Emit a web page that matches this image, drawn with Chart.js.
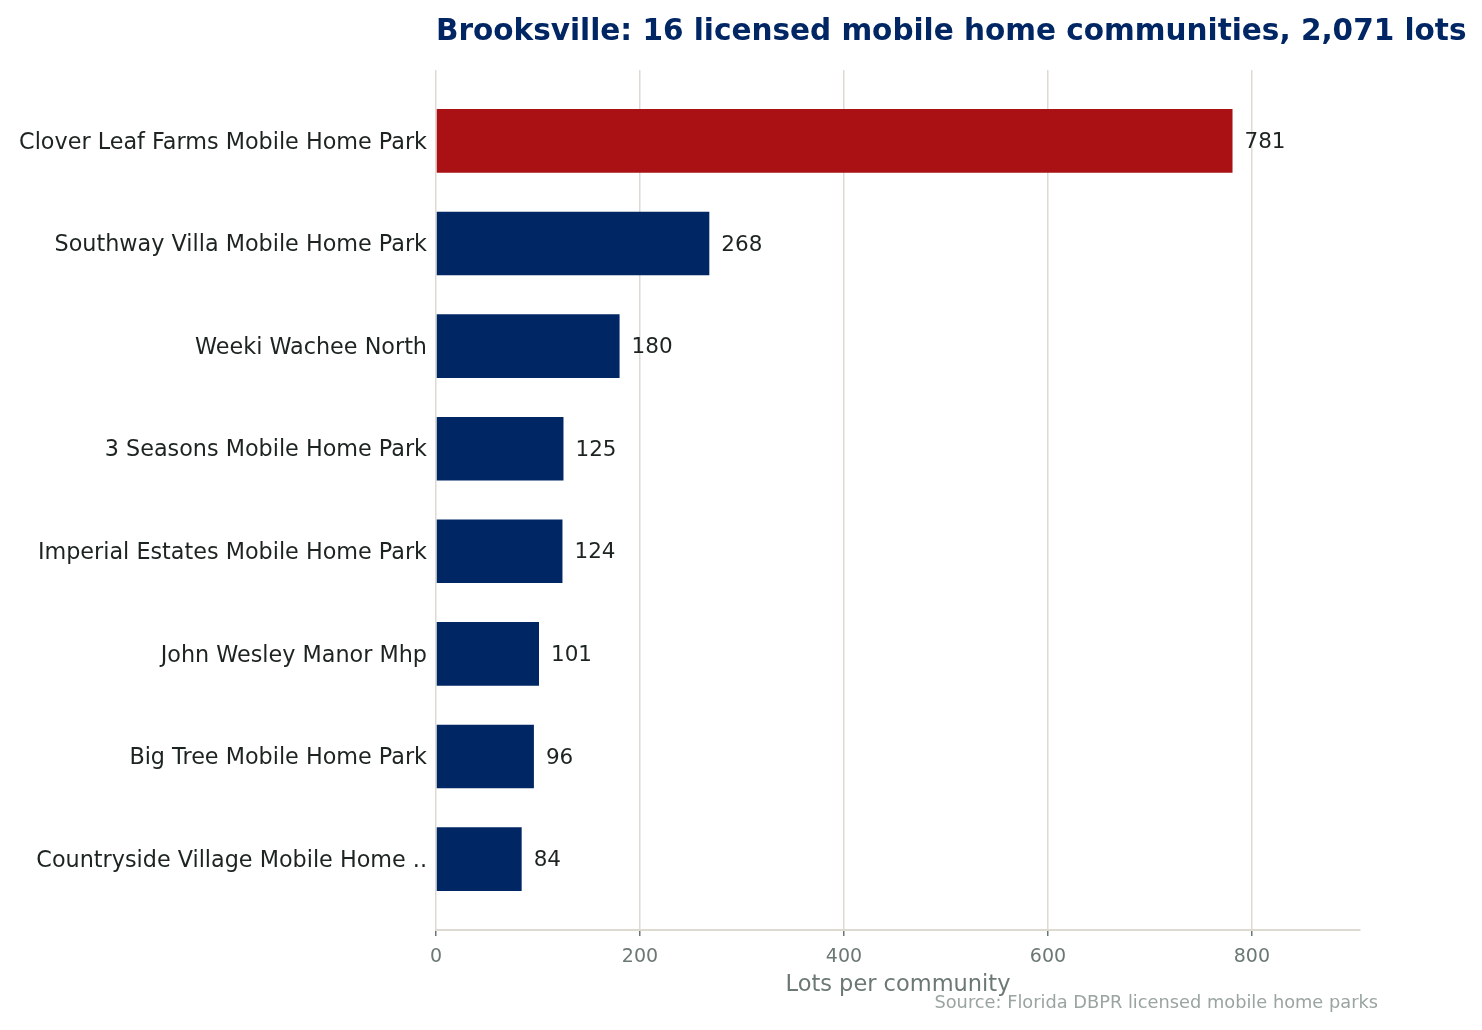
<!DOCTYPE html>
<html>
<head>
<meta charset="utf-8">
<script src="https://cdn.jsdelivr.net/npm/chart.js@4.4.1/dist/chart.umd.min.js"></script>
<style>
html,body{margin:0;padding:0;background:#fff;}
#wrap{width:1482px;height:1030px;position:relative;}
</style>
</head>
<body>
<div id="wrap"><canvas id="c" width="1482" height="1030"></canvas></div>
<script>
const categories = [
  "Clover Leaf Farms Mobile Home Park",
  "Southway Villa Mobile Home Park",
  "Weeki Wachee North",
  "3 Seasons Mobile Home Park",
  "Imperial Estates Mobile Home Park",
  "John Wesley Manor Mhp",
  "Big Tree Mobile Home Park",
  "Countryside Village Mobile Home .."
];
const lots = [781, 268, 180, 125, 124, 101, 96, 84];
const xTicks = [0, 200, 400, 600, 800];
const titleText = "Brooksville: 16 licensed mobile home communities, 2,071 lots";
const xTitle = "Lots per community";
const sourceText = "Source: Florida DBPR licensed mobile home parks";

const FONT = "'DejaVu Sans', sans-serif";
const NAVY = "#002664";
const RED = "#a91115";

const overlay = {
  id: 'overlay',
  afterDatasetsDraw(chart) {
    const ctx = chart.ctx;
    const meta = chart.getDatasetMeta(0);
    ctx.save();
    ctx.font = "21.5px " + FONT;
    ctx.fillStyle = "#1c2321";
    ctx.textAlign = "left";
    ctx.textBaseline = "middle";
    meta.data.forEach((bar, i) => {
      ctx.fillText(String(lots[i]), bar.x + 12, bar.y + 1.5);
    });
    ctx.restore();
  },
  afterDraw(chart) {
    const ctx = chart.ctx;
    const area = chart.chartArea;
    ctx.save();
    ctx.font = "bold 29.5px " + FONT;
    ctx.fillStyle = NAVY;
    ctx.textAlign = "left";
    ctx.textBaseline = "alphabetic";
    ctx.fillText(titleText, area.left, 40);
    ctx.font = "22.5px " + FONT;
    ctx.fillStyle = "#6b7874";
    ctx.textAlign = "center";
    ctx.textBaseline = "middle";
    ctx.fillText(xTitle, (area.left + area.right) / 2, 985);
    ctx.font = "17.8px " + FONT;
    ctx.fillStyle = "#9aa4a0";
    ctx.textAlign = "right";
    ctx.fillText(sourceText, 1378, 1003);
    ctx.restore();
  }
};

new Chart(document.getElementById('c'), {
  type: 'bar',
  data: {
    datasets: [{
      data: lots.map((v, i) => ({ x: v, y: i })),
      backgroundColor: ctx => ctx.dataIndex === 0 ? RED : NAVY,
      borderWidth: 0,
      categoryPercentage: 1,
      barPercentage: 0.62
    }]
  },
  options: {
    indexAxis: 'y',
    responsive: false,
    animation: false,
    devicePixelRatio: 1,
    layout: { padding: { top: 70, right: 122, left: 0, bottom: 0 } },
    plugins: { legend: { display: false }, tooltip: { enabled: false }, title: { display: false } },
    scales: {
      x: {
        type: 'linear',
        position: 'bottom',
        min: 0,
        max: 906,
        afterBuildTicks: s => { s.ticks = xTicks.map(v => ({ value: v })); },
        afterFit: s => { s.height = 100; },
        grid: { color: "#dedad2", lineWidth: 1.5, tickColor: "#6b7772", tickLength: 6, drawTicks: true },
        border: { display: true, color: "#dedad2", width: 2 },
        ticks: { font: { family: FONT, size: 19 }, color: "#6b7874", padding: 10, maxRotation: 0 }
      },
      y: {
        type: 'linear',
        position: 'left',
        reverse: true,
        offset: false,
        min: -0.691,
        max: 7.691,
        afterBuildTicks: s => { s.ticks = categories.map((_, i) => ({ value: i })); },
        afterFit: s => { s.width = 436; },
        grid: { display: false, drawTicks: false, offset: false },
        border: { display: false },
        ticks: {
          font: { family: FONT, size: 22.3 },
          color: "#1c2321",
          padding: 9,
          labelOffset: 2,
          callback: v => categories[v] ?? ''
        }
      }
    }
  },
  plugins: [overlay]
});
</script>
</body>
</html>
